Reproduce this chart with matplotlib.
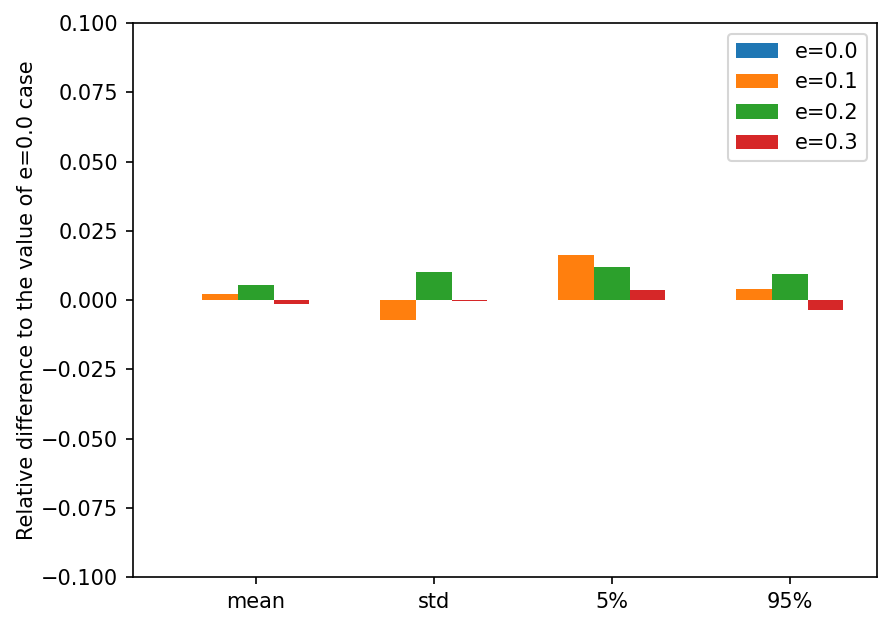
import numpy as np
import matplotlib
matplotlib.use("Agg")
import matplotlib.pyplot as plt

stats = ["mean", "std", "5%", "95%"]
labels = ["e=0.0", "e=0.1", "e=0.2", "e=0.3"]
e00 = [0.0, 0.0, 0.0, 0.0]
e01 = [0.0022, -0.0073, 0.0162, 0.0039]
e02 = [0.0054, 0.0100, 0.0119, 0.0093]
e03 = [-0.0013, -0.0003, 0.0037, -0.0037]

fig = plt.figure(figsize=(895/150, 628/150), dpi=150)
ax = fig.add_axes([0.1486, 0.0812, 0.8314, 0.882])

x = np.arange(len(stats))
w = 0.2
for j, (vals, lab) in enumerate(zip([e00, e01, e02, e03], labels)):
    ax.bar(x - 0.4 + j*w, vals, w, label=lab)

ax.set_xticks(x)
ax.set_xticklabels(stats)
ax.set_ylim(-0.1, 0.1)
ax.set_ylabel("Relative difference to the value of e=0.0 case", labelpad=2)
ax.legend(loc="upper right")

fig.savefig("out.png", dpi=150)
